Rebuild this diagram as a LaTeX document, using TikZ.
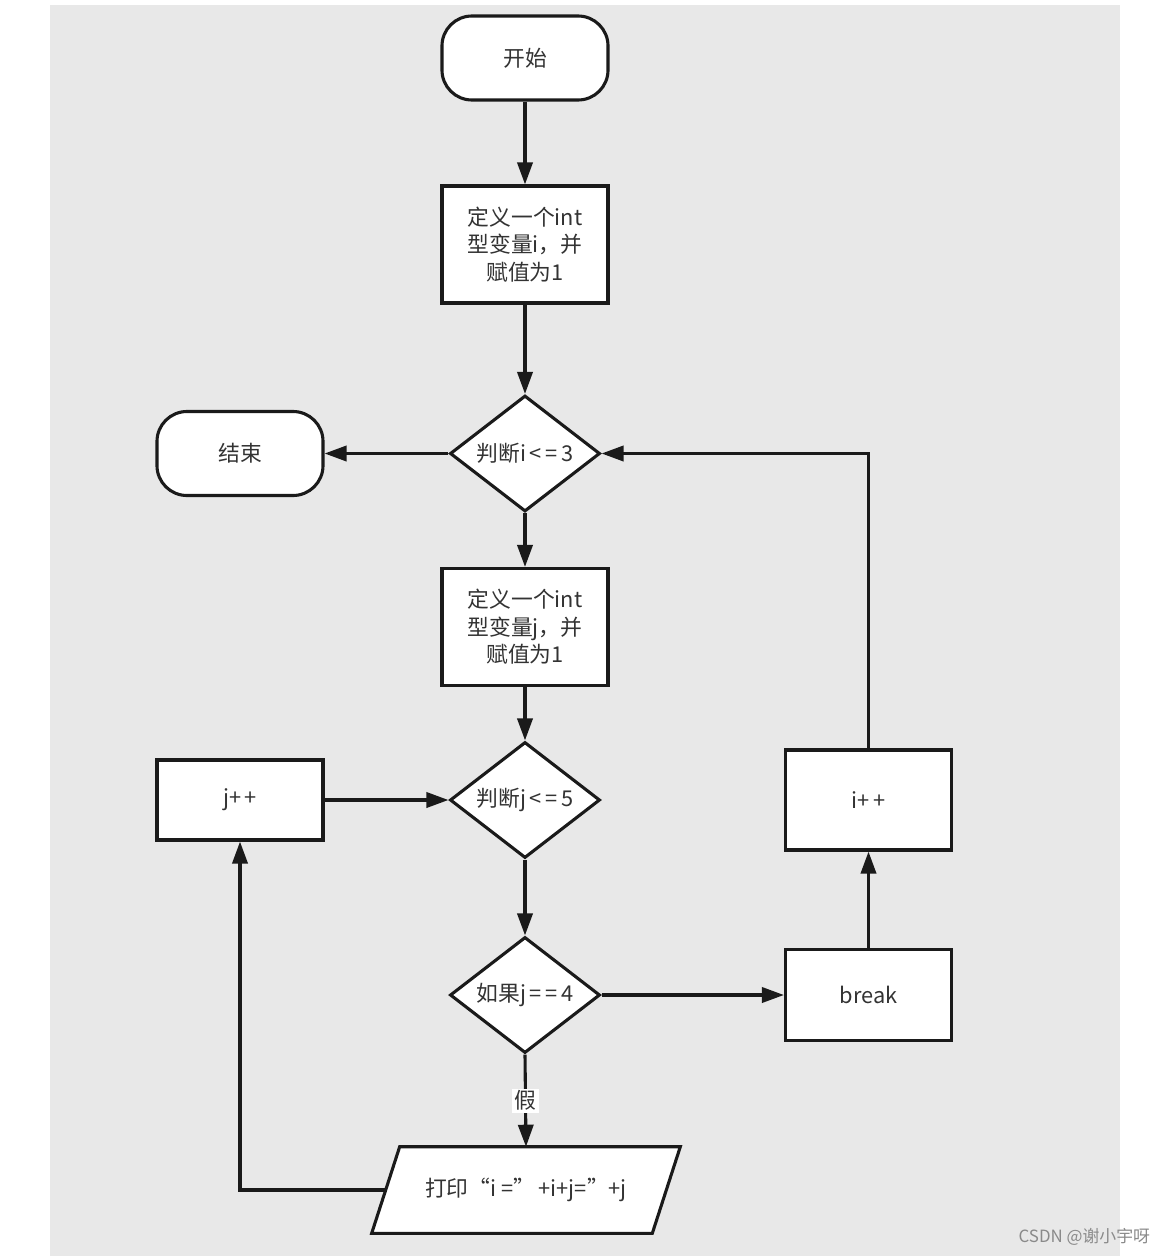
\documentclass[tikz,border=0pt]{standalone}
\usepackage{fontspec}
\setmainfont{Noto Sans CJK SC}
\usetikzlibrary{shapes.geometric,arrows.meta}
\definecolor{bg}{HTML}{E8E8E8}
\definecolor{txt}{HTML}{333333}
\definecolor{ln}{HTML}{1A1A1A}
\definecolor{wm}{HTML}{8A8A8A}
\begin{document}
\begin{tikzpicture}[x=0.025cm,y=-0.025cm,
  base/.style={draw=ln,line width=2.2pt,fill=white,text=txt,inner sep=0pt,
    font=\fontsize{15.5pt}{19.5pt}\selectfont,align=center},
  term/.style={base,rectangle,rounded corners=0.75cm,minimum width=4.15cm,minimum height=2.1cm},
  proc/.style={base,rectangle,minimum width=4.15cm},
  dec/.style={base,diamond,aspect=1.3,minimum width=3.75cm,minimum height=2.9cm},
  iobox/.style={rectangle,inner sep=0pt,minimum width=7.0cm,minimum height=2.15cm},
  iotext/.style={text=txt,inner sep=0pt,font=\fontsize{15.5pt}{19.5pt}\selectfont},
  arr/.style={draw=ln,line width=2.2pt,-{Triangle[length=0.55cm,width=0.38cm]}},
  lbl/.style={fill=white,text=txt,inner sep=1.5pt,font=\fontsize{15.5pt}{19.5pt}\selectfont}]
\fill[white] (0,0) rectangle (1170,1256);
\fill[bg] (50,5) rectangle (1120,1256);

\node[term] (start) at (525,58) {开始};
\node[proc,minimum height=2.925cm] (b1) at (525,244.5) {定义一个int\\型变量i，并\\赋值为1};
\node[dec] (d1) at (525,453.5) {判断i\,<\,=\,3};
\node[term] (end) at (240,453.5) {结束};
\node[proc,minimum height=2.925cm] (b2) at (525,627) {定义一个int\\型变量j，并\\赋值为1};
\node[dec] (d2) at (525,800) {判断j\,<\,=\,5};
\node[proc,minimum height=2.0cm] (jpp) at (240,800) {j+\,+};
\node[proc,minimum height=2.5cm] (ipp) at (868.5,800) {i+\,+};
\node[dec] (d3) at (525,995) {如果j\,=\,=\,4};
\node[proc,minimum height=2.275cm] (brk) at (868.5,995) {break};

% parallelogram (output)
\node[iobox] (pr) at (526,1190) {};
\draw[draw=ln,line width=2.2pt,fill=white,line join=miter]
  ([xshift=0.35cm]pr.north west) -- ([xshift=0.35cm]pr.north east)
  -- ([xshift=-0.35cm]pr.south east) -- ([xshift=-0.35cm]pr.south west) -- cycle;
\node[iotext] (prt) at (pr.center) {打印“i =”\,+i+j=\symbol{34}+j};

\draw[arr] (start) -- (b1);
\draw[arr] (b1) -- (d1);
\draw[arr] (d1.west) -- (end.east);
\draw[arr] (d1) -- (b2);
\draw[arr] (b2) -- (d2);
\draw[arr] (jpp.east) -- (d2.west);
\draw[arr] (d2) -- (d3);
\draw[arr] (d3.east) -- (brk.west);
\draw[arr] (brk) -- (ipp);
\draw[arr] (ipp.north) |- (d1.east);
\draw[arr] (d3.south) -- node[lbl,pos=0.5] (f) {假} (pr.north);
\draw[arr] (pr.west) -| (jpp.south);

\node[text=wm,font=\fontsize{12pt}{14pt}\selectfont,anchor=east] (wmk) at (1155,1237) {CSDN @谢小宇呀};
\end{tikzpicture}
\end{document}
